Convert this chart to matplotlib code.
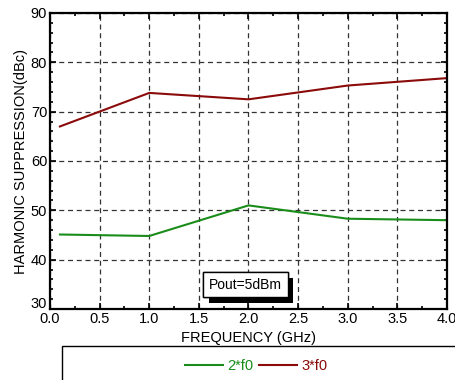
import matplotlib
matplotlib.use("Agg")
import matplotlib.pyplot as plt
from matplotlib.ticker import MultipleLocator
from matplotlib.patches import Rectangle
import matplotlib.patheffects as pe
import matplotlib.transforms as mtransforms

freq = [0.1, 1.0, 2.0, 3.0, 4.0]
h2 = [45.1, 44.8, 51.0, 48.3, 48.0]
h3 = [67.0, 73.8, 72.5, 75.3, 76.8]
labels = ["2*f0", "3*f0"]

plt.rcParams['font.family'] = ['Liberation Sans', 'DejaVu Sans']

W, H = 456, 380
fig = plt.figure(figsize=(W/100, H/100), dpi=100)
ax = fig.add_axes([50/W, 1-309/H, 397/W, 296/H])

green = '#1a8c1a'
red = '#8b0a0a'
ax.plot(freq, h2, color=green, lw=1.5, label=labels[0])
ax.plot(freq, h3, color=red, lw=1.5, label=labels[1])

ax.set_xlim(0, 4)
ax.set_ylim(30, 90)
ax.xaxis.set_major_locator(MultipleLocator(0.5))
ax.xaxis.set_minor_locator(MultipleLocator(0.25))
ax.yaxis.set_major_locator(MultipleLocator(10))
ax.yaxis.set_minor_locator(MultipleLocator(2))
ax.xaxis.set_major_formatter(plt.FuncFormatter(lambda v, p: f"{v:.1f}"))
ax.tick_params(which='both', direction='in', top=True, right=True, labelsize=10.5, width=1.2)
ax.tick_params(which='major', length=4)
ax.tick_params(which='minor', length=2.5)
ax.tick_params(axis='x', pad=2)
ax.tick_params(axis='y', pad=2)
for s in ax.spines.values():
    s.set_linewidth(1.6)
ax.grid(True, which='major', color='#333333', linestyle=(0, (4, 3)), lw=0.9)

ax.set_xlabel("FREQUENCY (GHz)", fontsize=10.5, labelpad=4)
ax.set_ylabel("HARMONIC SUPPRESSION(dBc)", fontsize=10.5, labelpad=2)

fig.canvas.draw()
ylabs = ax.get_yticklabels()
for lab in ylabs:
    if lab.get_text() == "30":
        lab.set_transform(lab.get_transform() + mtransforms.ScaledTranslation(0, 6/100, fig.dpi_scale_trans))

t = ax.text(1.97, 34.9, "Pout=5dBm", fontsize=10, ha='center', va='center', zorder=5,
            bbox=dict(boxstyle='square,pad=0.4', fc='white', ec='black', lw=1.0))
t.get_bbox_patch().set_path_effects([pe.withSimplePatchShadow(offset=(4, -4), shadow_rgbFace='black', alpha=1.0), pe.Normal()])

rect = Rectangle((62/W, -0.1), 1, 1-346/H+0.1, transform=fig.transFigure,
                 fill=False, ec='black', lw=1.0, clip_on=False)
fig.patches.append(rect)
leg = fig.legend(loc='center', bbox_to_anchor=(256/W, 1-366/H), ncol=2, frameon=False,
                 fontsize=10.5, handlelength=2.6, columnspacing=0.4, handletextpad=0.3)
for tt, c in zip(leg.get_texts(), [green, red]):
    tt.set_color(c)

fig.savefig("out.png", dpi=100)
